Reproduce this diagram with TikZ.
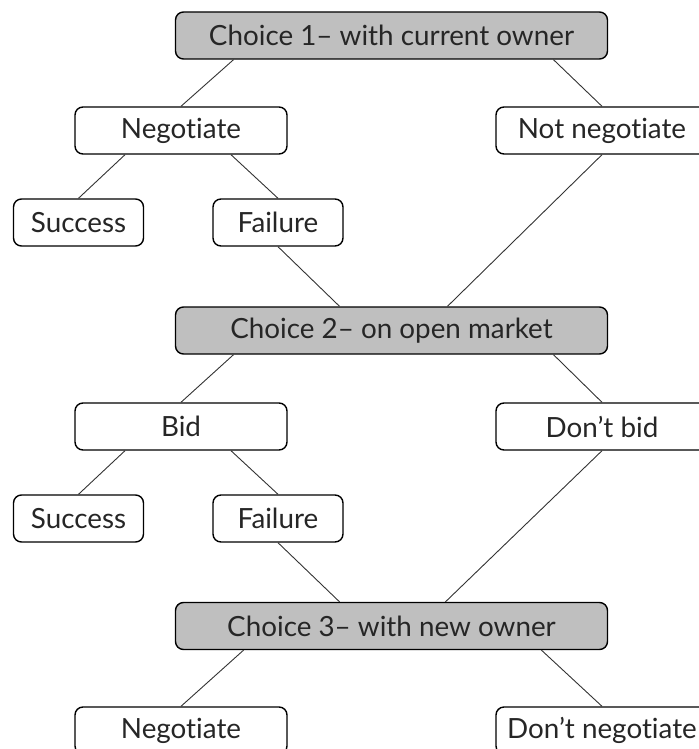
\documentclass[tikz,border=0pt]{standalone}
\usepackage{fontspec}
\setmainfont{Lato}[Ligatures={TeX,CommonOff}]
\usepackage{xcolor}
\definecolor{boxgray}{gray}{0.75}

\tikzset{
  choice/.style={draw, rounded corners=4pt, fill=boxgray, line width=0.7pt,
    minimum width=216pt, minimum height=23.5pt, inner sep=0pt,
    text=black!85, font=\fontsize{13.9}{16}\selectfont},
  option/.style={choice, fill=white, minimum width=106pt},
  outcome/.style={option, minimum width=65pt},
  link/.style={line width=0.45pt, black!80}
}

\begin{document}
\begin{tikzpicture}[x=0.5pt, y=-0.5pt]
    \useasboundingbox (0,0) rectangle (699,749);
    \clip (0,0) rectangle (699,749);

    % --- Choice 1: with current owner ---
    \node[choice] (c1) at (391.5,35.5) {Choice 1-- with current owner};
    \node[option] (neg1) at (181,130.5) {Negotiate};
    \node[option] (noneg1) at (602,130.5) {Not negotiate};
    \node[outcome] (succ1) at (78.5,222.5) {Success};
    \node[outcome] (fail1) at (278,222.5) {Failure};

    \draw[link] ([xshift=-79pt]c1.south) -- (neg1.north);
    \draw[link] ([xshift=81pt]c1.south) -- (noneg1.north);
    \draw[link] ([xshift=-28pt]neg1.south) -- (succ1.north);
    \draw[link] ([xshift=25pt]neg1.south) -- (fail1.north);

    % --- Choice 2: on open market ---
    \node[choice] (c2) at (391.5,330.5) {Choice 2-- on open market};
    \node[option] (bid2) at (181,426.5) {Bid};
    \node[option] (nobid2) at (602,426.5) {Don't bid};
    \node[outcome] (succ2) at (78.5,518.5) {Success};
    \node[outcome] (fail2) at (278,518.5) {Failure};

    \draw[link] (fail1.south) -- ([xshift=-26pt]c2.north);
    \draw[link] (noneg1.south) -- ([xshift=28pt]c2.north);
    \draw[link] ([xshift=-79pt]c2.south) -- (bid2.north);
    \draw[link] ([xshift=81pt]c2.south) -- (nobid2.north);
    \draw[link] ([xshift=-28pt]bid2.south) -- (succ2.north);
    \draw[link] ([xshift=25pt]bid2.south) -- (fail2.north);

    % --- Choice 3: with new owner ---
    \node[choice] (c3) at (391.5,626) {Choice 3-- with new owner};
    \node[option] (neg3) at (181,730.5) {Negotiate};
    \node[option] (noneg3) at (602,730.5) {Don't negotiate};

    \draw[link] (fail2.south) -- ([xshift=-26pt]c3.north);
    \draw[link] (nobid2.south) -- ([xshift=27pt]c3.north);
    \draw[link] ([xshift=-74pt]c3.south) -- (neg3.north);
    \draw[link] ([xshift=75pt]c3.south) -- (noneg3.north);
\end{tikzpicture}
\end{document}
